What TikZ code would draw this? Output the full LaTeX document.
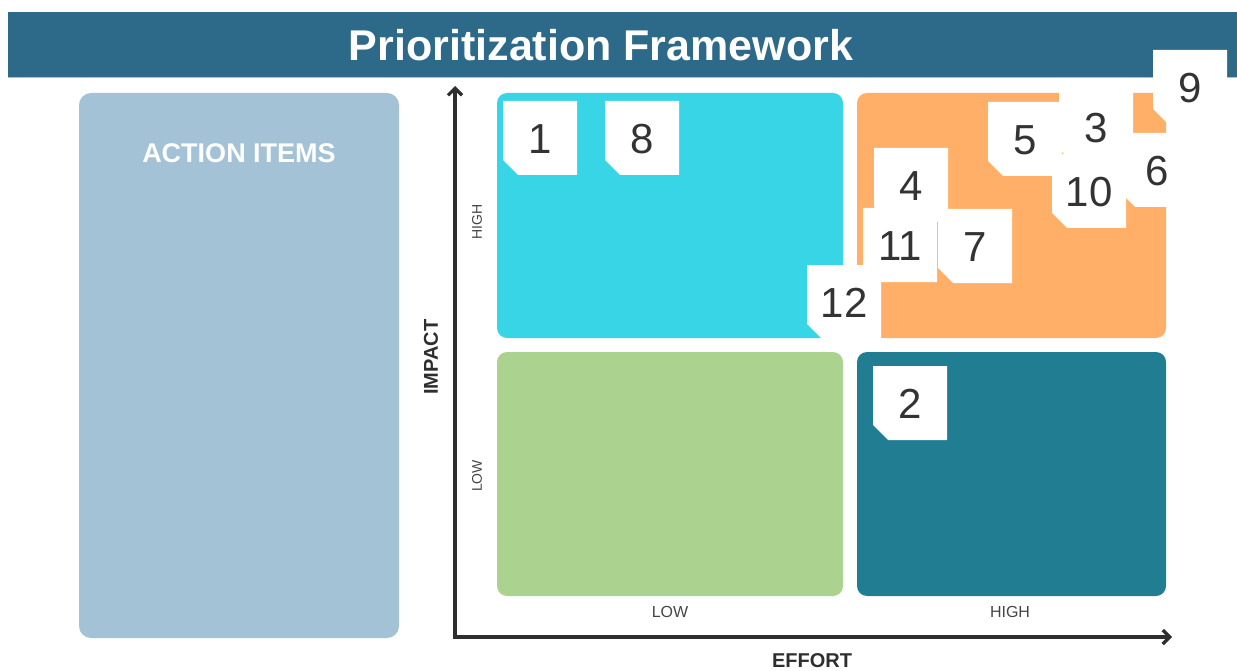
\documentclass[tikz,border=0pt]{standalone}
\usepackage{fontspec}
\setmainfont{Liberation Sans}
\usetikzlibrary{arrows.meta}

\definecolor{titlebar}{HTML}{2D6A8A}
\definecolor{titleedge}{HTML}{A9C3D3}
\definecolor{actionbox}{HTML}{A3C2D6}
\definecolor{quadcyan}{HTML}{38D5E6}
\definecolor{quadorange}{HTML}{FFAF68}
\definecolor{quadgreen}{HTML}{ABD38F}
\definecolor{quadteal}{HTML}{217D92}
\definecolor{axisgray}{HTML}{2E2E2E}
\definecolor{labelgray}{HTML}{444444}
\definecolor{numgray}{HTML}{333333}

% sticky note: name, left, top, label
\newcommand\stickynote[4]{%
  \fill[white] (#2,#3) -- ++(74,0) -- ++(0,74) -- ++(-59,0) -- ++(-15,-15) -- cycle;
  \node[notenum] (#1) at (#2+37,#3+38) {#4};}

\begin{document}
\begin{tikzpicture}[x=1pt,y=-1pt,
  quad/.style={rounded corners=10pt},
  notenum/.style={inner sep=0pt, text=numgray, font=\fontsize{42}{42}\selectfont},
  axislabel/.style={inner sep=0pt, text=axisgray, font=\fontsize{20}{20}\selectfont\bfseries},
  levellabel/.style={inner sep=0pt, text=labelgray, font=\fontsize{14}{14}\selectfont},
  effortlevel/.style={levellabel, font=\fontsize{16}{16}\selectfont},
  axis/.style={draw=axisgray, line width=3.2pt,
    arrows={Straight Barb[length=7pt,width=14pt]-Straight Barb[length=7pt,width=14pt]}}]
\useasboundingbox (0,0) rectangle (1237,671);

% title bar
\fill[titlebar] (8,12) rectangle (1237,77);
\draw[titleedge, line width=1.2pt] (8,77.6) -- (1237,77.6);
\node[inner sep=0pt, text=white, font=\fontsize{43}{43}\selectfont\bfseries] (title) at (601,45) {Prioritization Framework};

% action items panel
\fill[actionbox, rounded corners=12pt] (79,93) rectangle (399,638);
\node[inner sep=0pt, text=white, font=\fontsize{27}{27}\selectfont\bfseries] (actions) at (239,153) {ACTION ITEMS};

% quadrants
\fill[quadcyan, quad] (497,93) rectangle (843,338);
\fill[quadorange, quad] (857,93) rectangle (1166,338);
\fill[quadgreen, quad] (497,352) rectangle (843,596);
\fill[quadteal, quad] (857,352) rectangle (1166,596);

% axes
\coordinate (ytip) at (455,86);
\coordinate (origin) at (455,637);
\coordinate (xtip) at (1172,637);
\path[axis] (ytip) -- (origin) -- (xtip);

\node[axislabel, rotate=90] (impact) at (431,357) {IMPACT};
\node[axislabel] (effort) at (812,661) {EFFORT};
\node[levellabel, rotate=90] (ihigh) at (477,222) {HIGH};
\node[levellabel, rotate=90] (ilow) at (477,476) {LOW};
\node[effortlevel] (elow) at (670,612) {LOW};
\node[effortlevel] (ehigh) at (1010,612) {HIGH};

% sticky notes
\stickynote{n1}{503}{101}{1}
\stickynote{n8}{605}{101}{8}
\stickynote{n4}{874}{148}{4}
\stickynote{n11}{863}{208}{11}
\stickynote{n7}{938}{209}{7}
\stickynote{n12}{807}{265}{12}
\stickynote{n6}{1120}{133}{6}
\stickynote{n10}{1052}{154}{10}
\stickynote{n5}{988}{102}{5}
\stickynote{n3}{1059}{90}{3}
\stickynote{n9}{1153}{50}{9}
\stickynote{n2}{873}{366}{2}
\end{tikzpicture}
\end{document}
